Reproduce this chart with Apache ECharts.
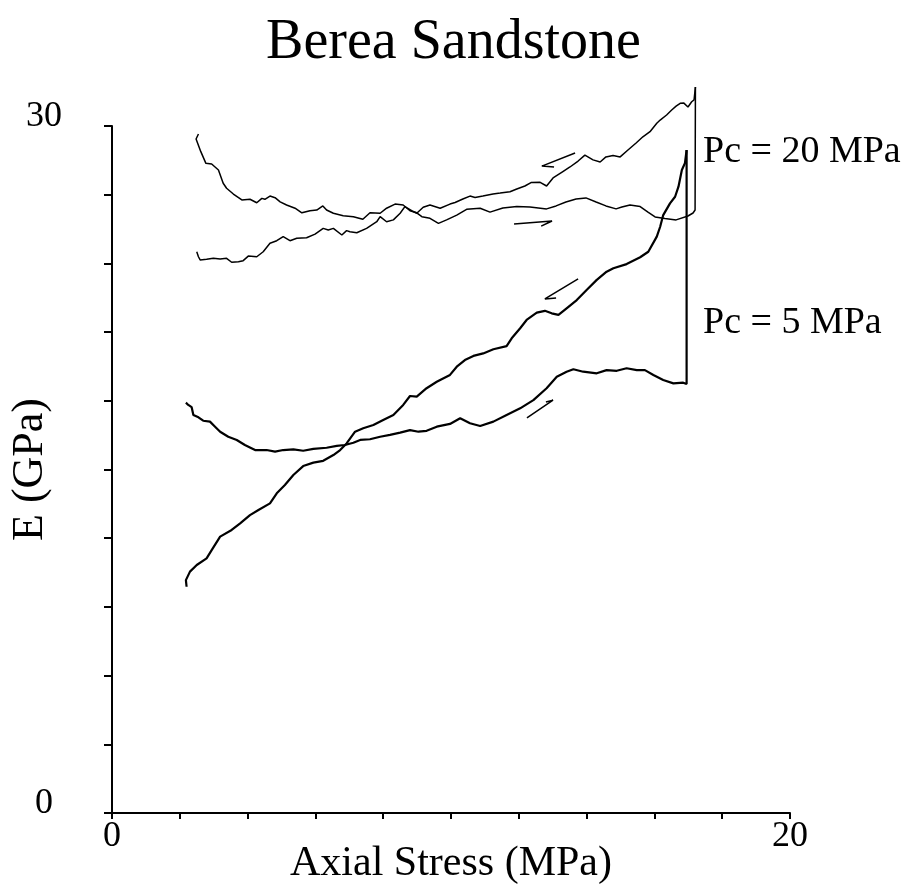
<!DOCTYPE html>
<html>
<head>
<meta charset="utf-8">
<title>Berea Sandstone</title>
<script src="https://cdn.jsdelivr.net/npm/echarts@6/dist/echarts.min.js"></script>
<style>
  html, body { margin: 0; padding: 0; background: #fff; }
  #chart { width: 907px; height: 891px; }
</style>
</head>
<body>
<div id="chart"></div>
<script>
// Pc = 20 MPa, loading: [axial stress MPa, E GPa], ends with the jump at reversal
const load20 = [
  [2.55, 29.65], [2.48, 29.43], [2.62, 28.88], [2.77, 28.37], [2.94, 28.34], [3.14, 28.08],
  [3.28, 27.50], [3.38, 27.28], [3.58, 27.03], [3.83, 26.77], [4.07, 26.80], [4.27, 26.65],
  [4.42, 26.84], [4.51, 26.80], [4.66, 26.94], [4.81, 26.87], [4.96, 26.69], [5.15, 26.55],
  [5.40, 26.41], [5.60, 26.21], [5.84, 26.30], [6.04, 26.33], [6.22, 26.51], [6.33, 26.33],
  [6.53, 26.19], [6.82, 26.08], [7.12, 26.04], [7.40, 25.93], [7.61, 26.21], [7.91, 26.19],
  [8.10, 26.41], [8.35, 26.59], [8.59, 26.55], [8.79, 26.30], [8.99, 26.21], [9.14, 26.04],
  [9.38, 25.97], [9.63, 25.75], [9.87, 25.90], [10.17, 26.11], [10.46, 26.36], [10.86, 26.41],
  [11.15, 26.24], [11.53, 26.42], [11.94, 26.48], [12.33, 26.46], [12.82, 26.38], [13.10, 26.51],
  [13.39, 26.68], [13.69, 26.81], [13.98, 26.86], [14.28, 26.68], [14.57, 26.51], [14.87, 26.38],
  [15.04, 26.46], [15.28, 26.55], [15.58, 26.48], [15.81, 26.24], [16.02, 26.03], [16.31, 25.96],
  [16.64, 25.90], [16.99, 26.07], [17.14, 26.20], [17.20, 26.33], [17.21, 31.70]
];

// Pc = 20 MPa, unloading
const unload20 = [
  [17.21, 31.70], [17.17, 31.14], [17.10, 31.06], [16.99, 30.83], [16.87, 31.00], [16.76, 30.99],
  [16.64, 30.87], [16.51, 30.70], [16.36, 30.48], [16.17, 30.26], [16.07, 30.12], [15.87, 29.75],
  [15.66, 29.53], [15.46, 29.26], [15.22, 28.95], [14.99, 28.65], [14.78, 28.71], [14.57, 28.65],
  [14.40, 28.43], [14.19, 28.52], [13.95, 28.73], [13.75, 28.47], [13.51, 28.21], [13.30, 28.01],
  [13.01, 27.73], [12.82, 27.38], [12.63, 27.54], [12.36, 27.53], [12.18, 27.38], [11.94, 27.25],
  [11.74, 27.13], [11.45, 27.07], [11.24, 27.03], [10.94, 26.94], [10.71, 26.88], [10.56, 26.94],
  [10.35, 26.81], [10.12, 26.66], [9.97, 26.59], [9.68, 26.41], [9.38, 26.55], [9.18, 26.45],
  [8.99, 26.19], [8.84, 26.30], [8.64, 26.48], [8.50, 26.19], [8.30, 25.90], [8.10, 25.82],
  [7.91, 26.04], [7.81, 25.82], [7.51, 25.53], [7.22, 25.34], [7.02, 25.38], [6.92, 25.43],
  [6.78, 25.24], [6.53, 25.53], [6.38, 25.46], [6.23, 25.53], [5.99, 25.28], [5.74, 25.12],
  [5.45, 25.10], [5.25, 24.99], [5.05, 25.17], [4.86, 24.99], [4.66, 24.88], [4.46, 24.51],
  [4.27, 24.29], [4.02, 24.32], [3.87, 24.12], [3.73, 24.07], [3.53, 24.05], [3.38, 24.22],
  [3.19, 24.19], [2.99, 24.22], [2.79, 24.18], [2.60, 24.15], [2.55, 24.29], [2.50, 24.51]
];

// Pc = 5 MPa, loading
const load5 = [
  [2.18, 17.92], [2.25, 17.82], [2.35, 17.72], [2.40, 17.38], [2.55, 17.28], [2.69, 17.13],
  [2.89, 17.09], [3.04, 16.87], [3.19, 16.65], [3.43, 16.43], [3.68, 16.29], [3.92, 16.07],
  [4.22, 15.85], [4.56, 15.85], [4.81, 15.78], [5.05, 15.85], [5.35, 15.88], [5.64, 15.82],
  [5.94, 15.90], [6.33, 15.95], [6.63, 16.03], [6.87, 16.07], [7.12, 16.17], [7.32, 16.29],
  [7.61, 16.32], [7.91, 16.43], [8.20, 16.51], [8.50, 16.61], [8.79, 16.72], [9.04, 16.65],
  [9.28, 16.69], [9.58, 16.87], [9.97, 16.99], [10.27, 17.24], [10.56, 17.02], [10.86, 16.90],
  [11.25, 17.09], [11.64, 17.38], [12.04, 17.67], [12.43, 18.03], [12.82, 18.55], [13.12, 19.05],
  [13.41, 19.27], [13.61, 19.38], [13.90, 19.27], [14.30, 19.20], [14.59, 19.34], [14.89, 19.31],
  [15.18, 19.42], [15.48, 19.34], [15.72, 19.34], [15.97, 19.13], [16.26, 18.91], [16.56, 18.76],
  [16.85, 18.79], [16.95, 18.73], [16.95, 28.95]
];

// Pc = 5 MPa, unloading
const unload5 = [
  [16.95, 28.95], [16.90, 28.37], [16.81, 28.08], [16.71, 27.35], [16.61, 26.91], [16.46, 26.62],
  [16.26, 26.11], [16.17, 25.60], [16.07, 25.17], [15.82, 24.51], [15.58, 24.27], [15.18, 23.97],
  [14.79, 23.79], [14.59, 23.64], [14.30, 23.28], [14.00, 22.84], [13.71, 22.40], [13.41, 22.04],
  [13.17, 21.75], [12.97, 21.82], [12.77, 21.93], [12.53, 21.85], [12.23, 21.53], [12.04, 21.17],
  [11.79, 20.73], [11.64, 20.39], [11.25, 20.25], [10.95, 20.07], [10.66, 19.96], [10.41, 19.78],
  [10.17, 19.49], [9.97, 19.13], [9.68, 18.91], [9.58, 18.83], [9.28, 18.55], [8.99, 18.18],
  [8.79, 18.21], [8.59, 17.82], [8.30, 17.38], [8.00, 17.16], [7.71, 16.94], [7.41, 16.80],
  [7.17, 16.65], [6.92, 16.14], [6.73, 15.85], [6.53, 15.63], [6.23, 15.38], [5.94, 15.30],
  [5.64, 15.15], [5.35, 14.76], [5.10, 14.32], [4.86, 13.96], [4.66, 13.52], [4.32, 13.23],
  [4.07, 13.01], [3.78, 12.65], [3.53, 12.36], [3.19, 12.07], [2.94, 11.48], [2.79, 11.12],
  [2.50, 10.83], [2.30, 10.54], [2.18, 10.17], [2.20, 9.88]
];

// direction arrows: tail, tip, barb
const arrowUnload20 = [[13.66, 28.82], [12.68, 28.25], [13.04, 28.21]];
const arrowLoad20 = [[11.86, 25.72], [12.98, 25.85], [12.66, 25.63]];
const arrowUnload5 = [[13.75, 23.32], [12.77, 22.45], [13.10, 22.49]];
const arrowLoad5 = [[12.24, 17.25], [13.01, 18.03], [12.80, 17.95]];

// only the end ticks carry labels
const xTickLabels = [0, 20];
const yTickLabels = [0, 30];

const serif = "'Liberation Serif', 'Times New Roman', serif";

const chart = echarts.init(document.getElementById('chart'), null, { renderer: 'canvas' });

function curve(data, width) {
  return {
    type: 'line',
    data: data,
    showSymbol: false,
    symbol: 'none',
    clip: false,
    silent: true,
    lineStyle: { color: '#000', width: width },
  };
}

const option = {
  animation: false,
  backgroundColor: '#fff',
  title: {
    text: 'Berea Sandstone',
    left: 'center',
    top: 10,
    textStyle: { fontFamily: serif, fontSize: 56, fontWeight: 'normal', color: '#000' },
  },
  grid: { left: 112, right: 117, top: 126, bottom: 78, outerBoundsMode: 'none', containLabel: false },
  xAxis: {
    type: 'value',
    min: 0,
    max: 20,
    interval: 2,
    name: 'Axial Stress (MPa)',
    nameLocation: 'middle',
    nameGap: 30,
    nameMoveOverlap: false,
    nameTextStyle: { fontFamily: serif, fontSize: 42, color: '#000' },
    axisLine: { onZero: false, lineStyle: { color: '#000', width: 2 } },
    axisTick: { inside: false, length: 6, lineStyle: { color: '#000', width: 2 } },
    axisLabel: {
      fontFamily: serif, fontSize: 36, color: '#000', margin: 6,
      formatter: v => (xTickLabels.indexOf(v) >= 0 ? String(v) : ''),
    },
    splitLine: { show: false },
  },
  yAxis: {
    type: 'value',
    min: 0,
    max: 30,
    interval: 3,
    name: 'E (GPa)',
    nameLocation: 'middle',
    nameGap: 60,
    nameMoveOverlap: false,
    nameTextStyle: { fontFamily: serif, fontSize: 44, color: '#000' },
    axisLine: { show: true, onZero: false, lineStyle: { color: '#000', width: 2 } },
    axisTick: { show: true, inside: false, length: 8, lineStyle: { color: '#000', width: 2 } },
    axisLabel: {
      fontFamily: serif, fontSize: 36, color: '#000', margin: 68, align: 'center',
      verticalAlign: 'bottom', lineHeight: 18,
      formatter: v => (yTickLabels.indexOf(v) >= 0 ? String(v) : ''),
    },
    splitLine: { show: false },
  },
  series: [
    curve(load20, 1.5),
    curve(unload20, 1.5),
    curve(load5, 2.2),
    curve(unload5, 2.2),
    curve(arrowUnload20, 1.5),
    curve(arrowLoad20, 1.5),
    curve(arrowUnload5, 1.5),
    curve(arrowLoad5, 1.5),
  ],
  graphic: [
    {
      type: 'text', left: 703, top: 133,
      style: { text: 'Pc = 20 MPa', fontFamily: serif, fontSize: 38, fill: '#000' },
    },
    {
      type: 'text', left: 703, top: 304,
      style: { text: 'Pc = 5 MPa', fontFamily: serif, fontSize: 38, fill: '#000' },
    },
  ],
};

chart.setOption(option);
</script>
</body>
</html>
